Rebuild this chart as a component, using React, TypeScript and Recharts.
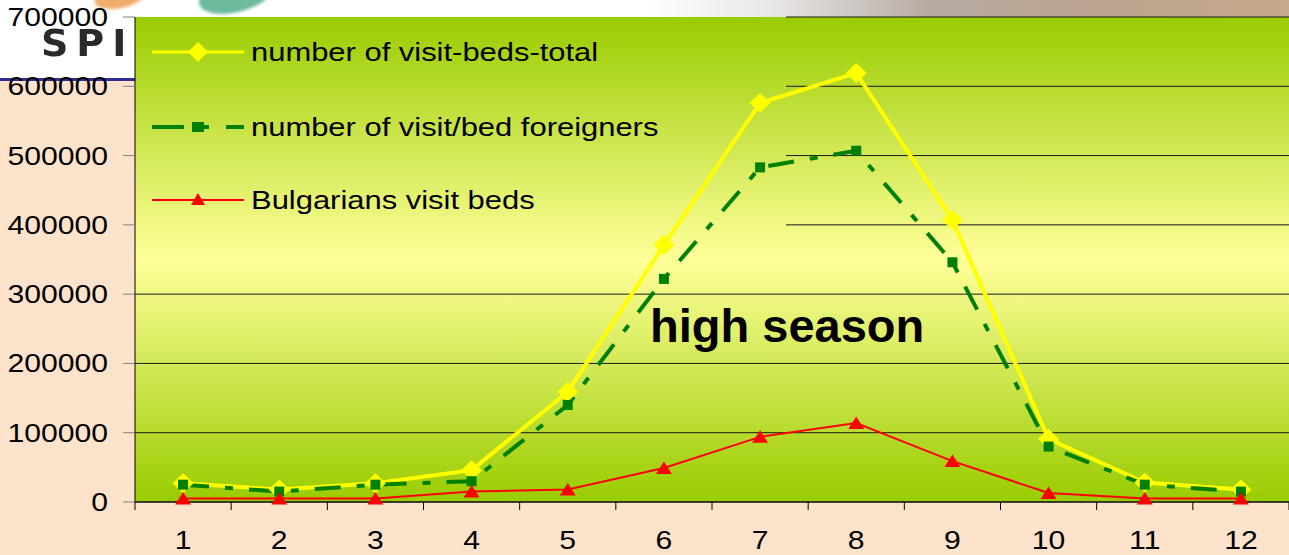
import { LineChart, Line, XAxis, YAxis, CartesianGrid } from 'recharts';

// monthly visit-beds
const months = ['1', '2', '3', '4', '5', '6', '7', '8', '9', '10', '11', '12'];
const totalBeds = [27000, 18000, 27000, 46000, 159000, 371000, 576000, 619000, 407000, 91000, 28000, 18000];
const foreignBeds = [25000, 15000, 25000, 30000, 140000, 322000, 483000, 507000, 346000, 80000, 25000, 15000];
const bulgarianBeds = [5000, 5000, 5000, 15000, 18000, 49000, 94000, 114000, 59000, 13000, 5000, 5000];
const yTicks = [0, 100000, 200000, 300000, 400000, 500000, 600000, 700000];
const seriesNames = ['number of visit-beds-total', 'number of visit/bed foreigners', 'Bulgarians visit beds'];
const seasonNote = 'high season';

const W = 1289;
const H = 555;
const PLOT_LEFT = 135;
const PLOT_TOP = 17;
const PLOT_BOTTOM = 502;
const BAND = (W - PLOT_LEFT) / months.length;
// the legend box sits over the top-left of the plot and hides the gridlines there
const LEGEND_RIGHT = 786;
const LEGEND_BOTTOM = 250;

const FONT = '"Liberation Sans", Arial, sans-serif';
const YELLOW = '#ffff00';
const GREEN = '#008000';
const RED = '#ff0000';
const DASH = '26 16 8 16';

const rows = months.map((m, i) => ({
  month: m,
  total: totalBeds[i],
  foreign: foreignBeds[i],
  bulgarian: bulgarianBeds[i],
}));

const DiamondDot = (p: any) => {
  const { cx, cy, index } = p;
  if (cx == null || cy == null) return <g key={`dm-${index}`} />;
  return (
    <polygon
      key={`dm-${index}`}
      points={`${cx},${cy - 10} ${cx + 10.5},${cy} ${cx},${cy + 10} ${cx - 10.5},${cy}`}
      fill={YELLOW}
    />
  );
};

const SquareDot = (p: any) => {
  const { cx, cy, index } = p;
  if (cx == null || cy == null) return <g key={`sq-${index}`} />;
  return <rect key={`sq-${index}`} x={cx - 5} y={cy - 5} width={10} height={10} fill={GREEN} />;
};

const TriangleDot = (p: any) => {
  const { cx, cy, index } = p;
  if (cx == null || cy == null) return <g key={`tr-${index}`} />;
  return (
    <polygon
      key={`tr-${index}`}
      points={`${cx},${cy - 6.5} ${cx + 8},${cy + 6} ${cx - 8},${cy + 6}`}
      fill={RED}
    />
  );
};

// ticks sit between the months, labels under the middle of each band
const MonthTick = (p: any) => {
  const { x, payload, index } = p;
  const half = BAND / 2;
  return (
    <g>
      <line x1={x - half} x2={x - half} y1={PLOT_BOTTOM} y2={PLOT_BOTTOM + 8} stroke="#000" />
      {index === months.length - 1 && (
        <line x1={x + half} x2={x + half} y1={PLOT_BOTTOM} y2={PLOT_BOTTOM + 8} stroke="#000" />
      )}
      <text
        transform={`translate(${x},${PLOT_BOTTOM + 47}) scale(1.16,1)`}
        textAnchor="middle"
        fontSize={26}
        fontFamily={FONT}
        fill="#000"
      >
        {payload.value}
      </text>
    </g>
  );
};

const ValueTick = (p: any) => {
  const { x, y, payload } = p;
  return (
    <text
      transform={`translate(${x},${y + 9}) scale(1.16,1)`}
      textAnchor="end"
      fontSize={26}
      fontFamily={FONT}
      fill="#000"
    >
      {payload.value}
    </text>
  );
};

const GridLine = (p: any) => {
  const { x1, x2, y1, y2, index } = p;
  const start = y1 < LEGEND_BOTTOM ? LEGEND_RIGHT : x1;
  return <line key={`gl-${index}`} x1={start} x2={x2} y1={y1} y2={y2} stroke="#1a1a1a" strokeWidth={1} />;
};

function LegendBox() {
  const rowY = [35, 110, 183];
  const textX = 116;
  return (
    <svg
      width={LEGEND_RIGHT - PLOT_LEFT}
      height={LEGEND_BOTTOM - PLOT_TOP}
      style={{ position: 'absolute', left: PLOT_LEFT, top: PLOT_TOP, pointerEvents: 'none' }}
    >
      <line x1={17} x2={109} y1={rowY[0]} y2={rowY[0]} stroke={YELLOW} strokeWidth={3} />
      <polygon points={`63,${rowY[0] - 10} 73,${rowY[0]} 63,${rowY[0] + 10} 53,${rowY[0]}`} fill={YELLOW} />

      <line x1={17} x2={49} y1={rowY[1]} y2={rowY[1]} stroke={GREEN} strokeWidth={4} />
      <rect x={57} y={rowY[1] - 5} width={12} height={10} fill={GREEN} />
      <line x1={69} x2={74} y1={rowY[1]} y2={rowY[1]} stroke={GREEN} strokeWidth={4} />
      <line x1={91} x2={109} y1={rowY[1]} y2={rowY[1]} stroke={GREEN} strokeWidth={4} />

      <line x1={17} x2={109} y1={rowY[2]} y2={rowY[2]} stroke={RED} strokeWidth={2} />
      <polygon points={`63,${rowY[2] - 7} 70,${rowY[2] + 5} 56,${rowY[2] + 5}`} fill={RED} />

      {seriesNames.map((name, i) => (
        <text
          key={name}
          transform={`translate(${textX},${rowY[i] + 9}) scale(1.19,1)`}
          fontSize={26}
          fontFamily={FONT}
          fill="#000"
        >
          {name}
        </text>
      ))}
    </svg>
  );
}

function Header() {
  return (
    <>
      <div
        style={{
          position: 'absolute',
          left: 0,
          top: 0,
          width: W,
          height: 78,
          background:
            'linear-gradient(to right, #ffffff 0%, #ffffff 50%, #e8e6e6 60%, #b6aba2 72%, #bba38e 85%, #c6a98e 100%)',
        }}
      />
      <div style={{ position: 'absolute', left: 0, top: 78, width: PLOT_LEFT, height: 3, background: '#2e3192' }} />
      <div
        style={{
          position: 'absolute',
          left: 94,
          top: -14,
          width: 52,
          height: 22,
          borderRadius: '50%',
          background: '#f1ad6c',
          transform: 'rotate(-12deg)',
          filter: 'blur(1.5px)',
        }}
      />
      <div
        style={{
          position: 'absolute',
          left: 198,
          top: -22,
          width: 76,
          height: 34,
          borderRadius: '50%',
          background: '#6dba9c',
          transform: 'rotate(-14deg)',
          filter: 'blur(1.5px)',
        }}
      />
      <div
        style={{
          position: 'absolute',
          left: 41,
          top: 20,
          fontFamily: '"DejaVu Sans", sans-serif',
          fontWeight: 700,
          fontSize: 38,
          lineHeight: '46px',
          letterSpacing: 8,
          color: '#2a2a2a',
          filter: 'blur(0.7px)',
        }}
      >
        SPI
      </div>
    </>
  );
}

export default function App() {
  return (
    <div
      style={{
        position: 'absolute',
        left: 0,
        top: 0,
        width: W,
        height: H,
        overflow: 'hidden',
        background: '#fde3cb',
        fontFamily: FONT,
      }}
    >
      <Header />
      <div style={{ position: 'absolute', left: 0, top: 0 }}>
        <LineChart width={W} height={H} data={rows} margin={{ top: PLOT_TOP, right: 0, bottom: 0, left: 0 }}>
          <defs>
            <linearGradient id="plotFill" x1="0" y1="0" x2="0" y2="1">
              <stop offset="0%" stopColor="#99cc00" />
              <stop offset="50%" stopColor="#ffff99" />
              <stop offset="100%" stopColor="#99cc00" />
            </linearGradient>
          </defs>
          <CartesianGrid
            vertical={false}
            horizontal={GridLine}
            fill="url(#plotFill)"
            fillOpacity={1}
            stroke="#1a1a1a"
          />
          <XAxis
            dataKey="month"
            scale="band"
            height={H - PLOT_BOTTOM}
            tickLine={false}
            tickSize={0}
            tickMargin={0}
            axisLine={{ stroke: '#000' }}
            tick={MonthTick}
            interval={0}
          />
          <YAxis
            width={PLOT_LEFT}
            domain={[0, 700000]}
            ticks={yTicks}
            interval={0}
            tickSize={12}
            tickMargin={15}
            tickLine={{ stroke: '#808080' }}
            axisLine={{ stroke: '#000' }}
            tick={ValueTick}
          />
          <Line
            dataKey="total"
            name={seriesNames[0]}
            type="linear"
            stroke={YELLOW}
            strokeWidth={4}
            dot={DiamondDot}
            activeDot={false}
            isAnimationActive={false}
          />
          <Line
            dataKey="foreign"
            name={seriesNames[1]}
            type="linear"
            stroke={GREEN}
            strokeWidth={4}
            strokeDasharray={DASH}
            dot={SquareDot}
            activeDot={false}
            isAnimationActive={false}
          />
          <Line
            dataKey="bulgarian"
            name={seriesNames[2]}
            type="linear"
            stroke={RED}
            strokeWidth={2}
            dot={TriangleDot}
            activeDot={false}
            isAnimationActive={false}
          />
        </LineChart>
      </div>
      <LegendBox />
      <div
        style={{
          position: 'absolute',
          left: 650,
          top: 298,
          fontFamily: FONT,
          fontWeight: 700,
          fontSize: 47,
          lineHeight: '56px',
          color: '#000',
          whiteSpace: 'nowrap',
        }}
      >
        {seasonNote}
      </div>
    </div>
  );
}
